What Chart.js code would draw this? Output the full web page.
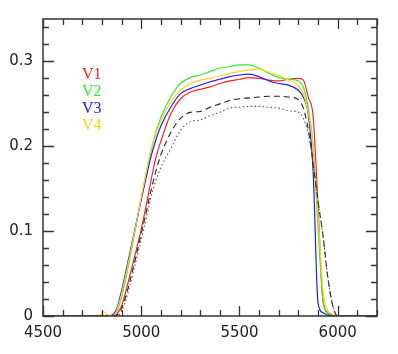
<!DOCTYPE html>
<html>
<head>
<meta charset="utf-8">
<script src="https://cdn.jsdelivr.net/npm/chart.js@4/dist/chart.umd.min.js"></script>
<style>
  html, body { margin: 0; padding: 0; background: #fff; }
  #wrap { width: 398px; height: 354px; }
</style>
</head>
<body>
<div id="wrap"><canvas id="myChart" width="398" height="354"></canvas></div>
<script>
// wavelength grid (Angstrom)
const wave = [4500, 4700, 4790, 4810, 4830, 4850, 4875, 4900, 4925, 4950, 4975, 5000, 5025, 5050, 5075, 5100, 5150, 5200, 5250, 5300,
              5350, 5400, 5450, 5500, 5550, 5600, 5650, 5700, 5750, 5800, 5825, 5850, 5875, 5900, 5925, 5950, 5975, 6000, 6100, 6200];

const v1 = [0, 0, 0, 0, 0, 0, 0.002, 0.012, 0.032, 0.055, 0.078, 0.102, 0.13, 0.16, 0.187, 0.206, 0.238, 0.256, 0.264, 0.267,
            0.27, 0.274, 0.277, 0.279, 0.281, 0.28, 0.278, 0.277, 0.279, 0.28, 0.278, 0.258, 0.235, 0.13, 0.018, 0.004, 0.001, 0, 0, 0];
const v2 = [0, 0, 0, 0, 0, 0, 0.005, 0.022, 0.048, 0.077, 0.108, 0.139, 0.168, 0.195, 0.217, 0.234, 0.258, 0.274, 0.281, 0.284,
            0.288, 0.292, 0.294, 0.296, 0.296, 0.292, 0.286, 0.281, 0.279, 0.277, 0.27, 0.245, 0.2, 0.105, 0.018, 0.003, 0.001, 0, 0, 0];
const v3 = [0, 0, 0, 0, 0, 0.001, 0.008, 0.03, 0.056, 0.083, 0.11, 0.137, 0.163, 0.188, 0.208, 0.224, 0.246, 0.262, 0.268, 0.272,
            0.276, 0.279, 0.282, 0.284, 0.285, 0.282, 0.277, 0.274, 0.272, 0.266, 0.258, 0.238, 0.17, 0.015, 0.004, 0.001, 0, 0, 0, 0];
const v4 = [0, 0, 0.001, 0.005, 0.001, 0, 0.006, 0.026, 0.052, 0.08, 0.109, 0.14, 0.169, 0.196, 0.215, 0.23, 0.252, 0.266, 0.274, 0.278,
            0.28, 0.283, 0.286, 0.288, 0.29, 0.291, 0.287, 0.283, 0.278, 0.271, 0.262, 0.24, 0.2, 0.12, 0.03, 0.006, 0.002, 0, 0, 0];
const dashed = [0, 0, 0, 0, 0, 0, 0.001, 0.009, 0.026, 0.048, 0.072, 0.097, 0.122, 0.148, 0.171, 0.19, 0.216, 0.233, 0.24, 0.241,
                0.246, 0.25, 0.254, 0.256, 0.257, 0.258, 0.259, 0.259, 0.258, 0.255, 0.245, 0.22, 0.18, 0.135, 0.095, 0.045, 0.012, 0, 0, 0];
const dotted = [0, 0, 0, 0, 0, 0, 0, 0.006, 0.021, 0.043, 0.066, 0.09, 0.115, 0.14, 0.16, 0.175, 0.197, 0.219, 0.229, 0.231,
                0.236, 0.24, 0.245, 0.246, 0.247, 0.247, 0.246, 0.245, 0.242, 0.24, 0.233, 0.215, 0.18, 0.135, 0.095, 0.045, 0.012, 0, 0, 0];

const xTicks = [4500, 5000, 5500, 6000];
const yTicks = [0, 0.1, 0.2, 0.3];
const legendNames = ['V1', 'V2', 'V3', 'V4'];
const legendColors = ['#ff2020', '#30ee30', '#2020f0', '#ffd020'];

const pts = arr => wave.map((x, i) => ({ x: x, y: arr[i] }));

function line(arr, color, dash, width) {
    return {
        data: pts(arr),
        borderColor: color,
        borderWidth: width || 1.2,
        borderDash: dash || [],
        pointRadius: 0,
        fill: false,
        cubicInterpolationMode: 'monotone'
    };
}

// inside ticks, frame and the V1..V4 labels
const frame = {
    id: 'frame',
    afterDatasetsDraw(chart) {
        const c = chart.ctx, a = chart.chartArea;
        const xs = chart.scales.x, ys = chart.scales.y;
        c.save();
        c.strokeStyle = '#333';
        c.lineWidth = 1.3;
        c.beginPath();
        for (let v = 4500; v <= 6200; v += 100) {
            const p = Math.round(xs.getPixelForValue(v)) + 0.5;
            const len = v % 500 === 0 ? 10 : 6;
            c.moveTo(p, a.bottom); c.lineTo(p, a.bottom - len);
            c.moveTo(p, a.top); c.lineTo(p, a.top + len);
        }
        for (let k = 0; k <= 17; k++) {
            const p = Math.round(ys.getPixelForValue(k * 0.02)) + 0.5;
            const len = k % 5 === 0 ? 11 : 6;
            c.moveTo(a.left, p); c.lineTo(a.left + len, p);
            c.moveTo(a.right, p); c.lineTo(a.right - len, p);
        }
        c.stroke();
        c.lineWidth = 1.5;
        c.strokeRect(a.left, a.top, a.right - a.left, a.bottom - a.top);

        c.font = '16px "Liberation Serif", "DejaVu Serif", serif';
        c.textBaseline = 'alphabetic';
        legendNames.forEach((n, i) => {
            c.fillStyle = legendColors[i];
            c.fillText(n, 82, 79 + i * 17);
        });
        c.restore();
    }
};

const ctx = document.getElementById('myChart').getContext('2d');
const myChart = new Chart(ctx, {
    type: 'line',
    data: {
        datasets: [
            line(dotted, '#555', [1.5, 2.5], 1.1),
            line(dashed, '#222', [6, 4], 1.1),
            line(v4, legendColors[3]),
            line(v3, legendColors[2]),
            line(v2, legendColors[1]),
            line(v1, legendColors[0])
        ]
    },
    options: {
        responsive: false,
        animation: false,
        layout: { padding: { top: 19, right: 21, left: 0, bottom: 0 } },
        scales: {
            x: {
                type: 'linear',
                min: 4500,
                max: 6200,
                afterFit: s => { s.height = 38; },
                afterBuildTicks: s => { s.ticks = xTicks.map(v => ({ value: v })); },
                grid: { display: false, drawTicks: false },
                border: { display: false },
                ticks: {
                    autoSkip: false,
                    maxRotation: 0,
                    padding: 8,
                    color: '#222',
                    font: { family: '"DejaVu Sans", sans-serif', size: 15 },
                    callback: v => String(v)
                }
            },
            y: {
                min: 0,
                max: 0.35,
                afterFit: s => { s.width = 43; },
                afterBuildTicks: s => { s.ticks = yTicks.map(v => ({ value: v })); },
                grid: { display: false, drawTicks: false },
                border: { display: false },
                ticks: {
                    padding: 10,
                    color: '#222',
                    font: { family: '"DejaVu Sans", sans-serif', size: 15 },
                    callback: v => String(Math.round(v * 10) / 10)
                }
            }
        },
        plugins: {
            legend: { display: false },
            tooltip: { enabled: false }
        }
    },
    plugins: [frame]
});
</script>
</body>
</html>
